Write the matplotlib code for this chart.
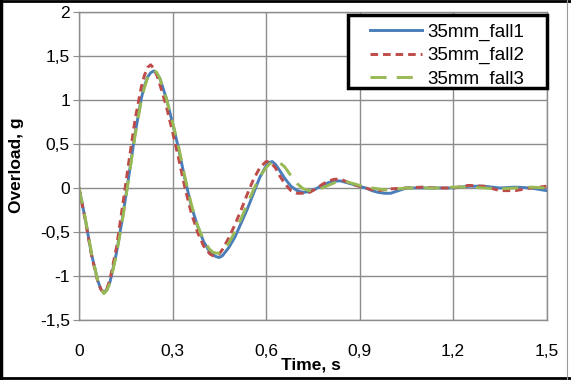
import matplotlib
matplotlib.use("Agg")
import matplotlib.pyplot as plt
from matplotlib.lines import Line2D
from matplotlib.patches import Rectangle
from matplotlib.ticker import FuncFormatter

plt.rcParams['font.family'] = ['Liberation Sans', 'DejaVu Sans']

# time grid, s
time_s = [0.00, 0.02, 0.04, 0.06, 0.07, 0.08, 0.09, 0.10, 0.12, 0.14,
          0.16, 0.18, 0.20, 0.21, 0.22, 0.23, 0.24, 0.25, 0.26, 0.28,
          0.30, 0.32, 0.34, 0.36, 0.38, 0.40, 0.42, 0.43, 0.44, 0.45,
          0.46, 0.48, 0.50, 0.52, 0.54, 0.56, 0.58, 0.60, 0.61, 0.62,
          0.63, 0.64, 0.66, 0.68, 0.70, 0.72, 0.74, 0.76, 0.78, 0.80,
          0.82, 0.84, 0.86, 0.88, 0.90, 0.92, 0.94, 0.96, 0.98, 1.00,
          1.05, 1.10, 1.15, 1.20, 1.25, 1.30, 1.35, 1.40, 1.45, 1.50]

fall1 = [0.00, -0.35, -0.75, -1.05, -1.15, -1.19, -1.15, -1.06, -0.74, -0.33,
         0.14, 0.62, 1.02, 1.16, 1.26, 1.31, 1.33, 1.30, 1.24, 1.02,
         0.74, 0.44, 0.10, -0.20, -0.43, -0.61, -0.73, -0.76, -0.78, -0.79,
         -0.77, -0.68, -0.56, -0.40, -0.24, -0.06, 0.12, 0.25, 0.29, 0.30,
         0.27, 0.22, 0.11, 0.02, -0.03, -0.05, -0.04, -0.01, 0.03, 0.06,
         0.08, 0.08, 0.06, 0.04, 0.02, 0.00, -0.03, -0.05, -0.06, -0.06,
         0.00, 0.00, 0.00, 0.00, 0.02, 0.02, 0.00, 0.01, 0.00, -0.03]

fall2 = [0.00, -0.36, -0.76, -1.06, -1.15, -1.19, -1.14, -1.03, -0.68, -0.20,
         0.30, 0.78, 1.15, 1.28, 1.37, 1.40, 1.36, 1.28, 1.17, 0.93,
         0.64, 0.33, 0.00, -0.28, -0.50, -0.66, -0.75, -0.77, -0.77, -0.75,
         -0.70, -0.57, -0.42, -0.25, -0.07, 0.10, 0.23, 0.30, 0.30, 0.27,
         0.23, 0.16, 0.05, -0.03, -0.06, -0.06, -0.05, -0.01, 0.04, 0.08,
         0.10, 0.10, 0.07, 0.04, 0.02, 0.00, -0.02, -0.03, -0.02, -0.01,
         0.00, 0.01, 0.00, 0.00, 0.03, 0.02, -0.03, -0.03, 0.00, 0.02]

fall3 = [0.00, -0.34, -0.74, -1.05, -1.15, -1.20, -1.16, -1.07, -0.76, -0.35,
         0.12, 0.60, 1.00, 1.14, 1.25, 1.31, 1.34, 1.31, 1.24, 1.02,
         0.75, 0.46, 0.12, -0.18, -0.42, -0.60, -0.70, -0.73, -0.74, -0.74,
         -0.72, -0.63, -0.50, -0.35, -0.18, -0.02, 0.13, 0.23, 0.27, 0.29,
         0.31, 0.30, 0.24, 0.14, 0.05, -0.01, -0.03, -0.02, 0.00, 0.03,
         0.06, 0.07, 0.07, 0.05, 0.03, 0.01, 0.00, -0.01, -0.02, -0.02,
         0.00, 0.00, 0.00, 0.01, 0.01, 0.00, -0.01, 0.00, 0.01, 0.00]

labels = ['35mm_fall1', '35mm_fall2', '35mm_fall3']
x_ticks = [0, 0.3, 0.6, 0.9, 1.2, 1.5]
y_ticks = [-1.5, -1, -0.5, 0, 0.5, 1, 1.5, 2]

fig = plt.figure(figsize=(5.71, 3.80), dpi=100)
ax = fig.add_axes([79/571, 1 - 320/380, 467.5/571, 308/380])

lw = 2.1
kw = dict(lw=lw, solid_joinstyle='round', dash_joinstyle='round')
ax.plot(time_s, fall1, color='#4a7ebb', label=labels[0], **kw)
ax.plot(time_s, fall2, color='#be4b48', dashes=(2.6, 1.7), label=labels[1], **kw)
ax.plot(time_s, fall3, color='#98b954', dashes=(5.5, 3.5), label=labels[2], **kw)

ax.set_xlim(0, 1.5)
ax.set_ylim(-1.5, 2)
ax.set_xticks(x_ticks)
ax.set_yticks(y_ticks)
comma = FuncFormatter(lambda v, p: f'{v:g}'.replace('.', ','))
ax.xaxis.set_major_formatter(comma)
ax.yaxis.set_major_formatter(comma)
ax.grid(True, color='#8c8c8c', lw=1.0)
ax.set_axisbelow(True)
for s in ax.spines.values():
    s.set_color('#8c8c8c')
    s.set_linewidth(1.0)
ax.tick_params(axis='y', length=4.5, color='#8c8c8c', pad=2, labelsize=12.5)
ax.tick_params(axis='x', length=0, pad=17, labelsize=12.5)

fig.text(17/571, 1 - 165/380, 'Overload, g', rotation=90, ha='center',
         va='center', fontsize=12.5, fontweight='bold')
fig.text(311/571, 1 - 365/380, 'Time, s', ha='center', va='center',
         fontsize=12.5, fontweight='bold')

# legend box drawn separately so its padding matches the original
fig.add_artist(Rectangle((348/571, 1 - 88/380), 199/571, 73/380,
                         transform=fig.transFigure, facecolor='white',
                         edgecolor='black', lw=2.5, zorder=3))
leg = ax.legend(loc='upper left', bbox_to_anchor=(366/571, 1 - 20/380),
                bbox_transform=fig.transFigure, borderaxespad=0,
                frameon=False, fontsize=13.5,
                handlelength=2.8, handletextpad=0.25, labelspacing=0.32,
                borderpad=0.2)
leg.set_zorder(4)
fig.add_artist(leg)

# frame around the whole picture
fig.add_artist(Line2D([0.002, 0.002], [0, 1], transform=fig.transFigure, color='black', lw=2.5))
fig.add_artist(Line2D([0, 1], [0.997, 0.997], transform=fig.transFigure, color='black', lw=2.0))
fig.add_artist(Line2D([0, 1], [0.006, 0.006], transform=fig.transFigure, color='black', lw=2.0))
fig.add_artist(Line2D([567/571, 567/571], [0, 1], transform=fig.transFigure, color='#9a9a9a', lw=0.8))

fig.savefig('out.png', dpi=100)
